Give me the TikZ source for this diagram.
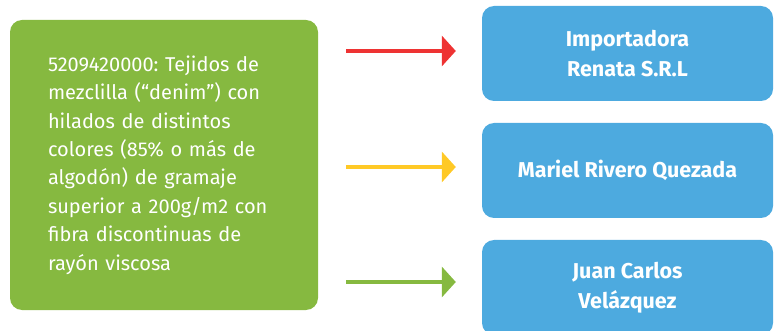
\documentclass[tikz,border=0pt]{standalone}
\usepackage{fontspec}
\setmainfont{Fira Sans}
\usetikzlibrary{arrows.meta}
\definecolor{boxgreen}{HTML}{86B940}
\definecolor{boxblue}{HTML}{4DAADF}
\definecolor{arrred}{HTML}{EE3333}
\definecolor{arryellow}{HTML}{FFC926}
\frenchspacing
\begin{document}
\begin{tikzpicture}[x=1pt, y=-1pt,
    code node/.style={rectangle, rounded corners=12pt, fill=boxgreen, text=white, align=left,
        text width=232pt, inner xsep=38pt, minimum height=290pt, font=\fontsize{20}{28.4}\selectfont},
    name node/.style={rectangle, rounded corners=12pt, fill=boxblue, text=white, align=center,
        minimum width=291pt, minimum height=95pt, font=\bfseries\fontsize{21.5}{30}\selectfont},
    link/.style={line width=4pt, -{Triangle[length=14pt, width=30pt]}, shorten >=26pt}]
        \useasboundingbox (0,0) rectangle (774,331);

          \node[code node] (1) at (164,165) {5209420000: Tejidos de\\mezclilla (“denim”) con\\hilados de distintos\\colores (85\% o más de\\algodón) de gramaje\\superior a 200g/m2 con\\fibra discontinuas de\\rayón viscosa};
          \node[name node] (2) at (627.5,53.5) {Importadora\\Renata S.R.L};
          \node[name node] (3) at (627.5,170.5) {Mariel Rivero Quezada};
          \node[name node] (4) at (627.5,287.5) {Juan Carlos\\Velázquez};

          \coordinate (a2) at (346,51);
          \coordinate (a3) at (346,167);
          \coordinate (a4) at (346,282);

          \draw[link, arrred] (a2) -- (a2 -| 2.west);
          \draw[link, arryellow] (a3) -- (a3 -| 3.west);
          \draw[link, boxgreen] (a4) -- (a4 -| 4.west);

        \end{tikzpicture}
\end{document}
